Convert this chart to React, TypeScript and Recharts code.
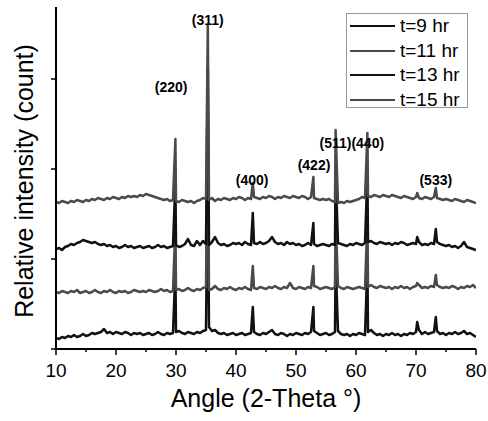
import React from 'react';
import { LineChart, Line, XAxis, YAxis, ReferenceDot, Legend, Label } from 'recharts';

const FONT = "Arial, 'Liberation Sans', Helvetica, sans-serif";

// Sampling grid of the diffractograms: 10.0° to 80.0° every 0.5°
const ANGLE_START = 10;
const ANGLE_STEP = 0.5;

// Baseline intensities (a.u., stacked), 10 values per 5° row
const base9 = [
  11, 10, 12, 11, 13, 12, 14, 12, 13, 15,
  13, 14, 16, 15, 16, 17, 20, 16, 17, 15,
  17, 16, 15, 17, 16, 14, 16, 15, 16, 14,
  15, 16, 14, 15, 17, 15, 14, 16, 15, 16,
  17, 18, 16, 15, 17, 16, 15, 17, 16, 18,
  19, 22, 18, 19, 16, 15, 16, 14, 15, 16,
  14, 15, 16, 14, 15, 16, 17, 15, 14, 16,
  15, 17, 19, 15, 14, 16, 15, 13, 15, 14,
  16, 15, 14, 16, 15, 17, 18, 16, 14, 15,
  16, 14, 15, 17, 18, 15, 14, 15, 13, 15,
  14, 16, 15, 14, 17, 19, 16, 14, 15, 13,
  15, 14, 16, 14, 15, 13, 15, 14, 16, 15,
  17, 19, 15, 17, 15, 16, 17, 18, 15, 16,
  14, 16, 15, 17, 15, 16, 18, 15, 16, 14,
  12,
];
const base11 = [
  57, 56, 58, 57, 56, 58, 57, 59, 56, 57,
  58, 56, 57, 59, 57, 56, 58, 57, 59, 57,
  56, 58, 57, 58, 56, 57, 59, 58, 57, 58,
  57, 59, 58, 57, 58, 60, 58, 59, 57, 58,
  59, 60, 58, 59, 61, 59, 58, 60, 59, 61,
  62, 59, 60, 63, 60, 59, 61, 60, 62, 60,
  59, 61, 60, 62, 60, 59, 61, 60, 62, 61,
  60, 62, 61, 63, 61, 60, 62, 61, 66, 61,
  60, 62, 61, 60, 62, 61, 63, 62, 60, 61,
  62, 61, 60, 62, 63, 61, 60, 62, 61, 60,
  61, 62, 61, 60, 62, 64, 62, 61, 63, 62,
  61, 62, 60, 62, 61, 63, 61, 62, 60, 62,
  63, 64, 61, 62, 61, 63, 62, 64, 62, 61,
  62, 61, 63, 62, 60, 62, 61, 63, 62, 64,
  61,
];
const base13 = [
  100, 101, 99, 102, 103, 105, 104, 106, 107, 109,
  108, 107, 106, 107, 105, 104, 105, 103, 104, 102,
  103, 101, 102, 104, 102, 103, 101, 102, 103, 101,
  102, 103, 101, 102, 104, 102, 103, 101, 102, 103,
  104, 102, 103, 105, 110, 104, 103, 108, 104, 108,
  105, 104, 107, 112, 106, 104, 105, 103, 104, 106,
  105, 106, 104, 107, 105, 104, 106, 105, 107, 105,
  106, 108, 112, 107, 105, 106, 104, 107, 105, 106,
  104, 105, 103, 104, 106, 104, 105, 103, 104, 105,
  104, 103, 105, 104, 106, 105, 104, 103, 105, 104,
  106, 105, 104, 106, 107, 108, 106, 105, 107, 106,
  105, 106, 104, 106, 105, 107, 106, 104, 105, 106,
  105, 107, 104, 105, 104, 106, 105, 107, 105, 104,
  103, 104, 102, 103, 101, 103, 107, 102, 101, 100,
  99,
];
const base15 = [
  147, 146, 148, 147, 146, 148, 147, 149, 148, 147,
  149, 148, 150, 149, 151, 150, 149, 151, 150, 152,
  151, 150, 152, 151, 153, 152, 153, 152, 154, 153,
  155, 154, 153, 152, 151, 150, 149, 150, 148, 149,
  148, 147, 149, 148, 147, 148, 146, 148, 149, 151,
  150, 149, 151, 148, 150, 149, 151, 150, 149, 151,
  150, 152, 151, 149, 151, 150, 152, 151, 150, 152,
  151, 153, 152, 150, 152, 151, 153, 152, 151, 153,
  152, 151, 153, 152, 150, 152, 151, 150, 149, 150,
  149, 150, 148, 147, 146, 147, 146, 148, 147, 148,
  149, 150, 152, 151, 153, 152, 154, 153, 152, 154,
  153, 152, 154, 153, 152, 151, 153, 152, 151, 150,
  152, 151, 150, 152, 151, 150, 152, 151, 150, 149,
  150, 149, 148, 150, 149, 148, 147, 149, 148, 147,
  146,
];

// Diffraction peaks: [angle (2θ), apex intensity]
const peaks9: [number, number][] = [
  [29.9, 80], [35.3, 193], [42.8, 42], [52.9, 42], [56.6, 88], [61.9, 85], [70.2, 27], [73.3, 32],
];
const peaks11: [number, number][] = [
  [29.9, 124], [35.3, 238], [42.8, 83], [52.9, 83], [56.6, 133], [61.9, 130], [70.2, 66], [73.3, 74],
];
const peaks13: [number, number][] = [
  [29.9, 168], [35.3, 282], [42.8, 136], [52.9, 126], [56.6, 177], [61.9, 175], [70.2, 112], [73.3, 120],
];
const peaks15: [number, number][] = [
  [29.9, 210], [35.3, 324], [42.8, 166], [52.9, 172], [56.6, 219], [61.9, 216], [70.2, 156], [73.3, 161],
];

const seriesNames = ['t=9 hr', 't=11 hr', 't=13 hr', 't=15 hr'];
const seriesColors = ['#111111', '#4a4a4a', '#111111', '#4a4a4a'];

// Miller-index annotations: text, angle, intensity level
const annoText = ['(220)', '(311)', '(400)', '(422)', '(511)(440)', '(533)'];
const annoAngle = [29.2, 35.3, 42.7, 53.0, 59.3, 73.3];
const annoLevel = [262, 329, 169, 184, 206, 169];

const xTicks = [10, 15, 20, 25, 30, 35, 40, 45, 50, 55, 60, 65, 70, 75, 80];
const yTicks = [0, 90, 180, 270];

function build(base: number[], peaks: [number, number][]) {
  const pts = base
    .map((v, i) => ({ x: ANGLE_START + i * ANGLE_STEP, v }))
    .filter((p) => !peaks.some(([a]) => Math.abs(a - p.x) < 0.05));
  peaks.forEach(([a, h]) => pts.push({ x: a, v: h }));
  pts.sort((a, b) => a.x - b.x);
  return pts;
}

const seriesData = [
  build(base9, peaks9),
  build(base11, peaks11),
  build(base13, peaks13),
  build(base15, peaks15),
];

const XTick = (props: any) => {
  const { x, y, payload } = props;
  const major = payload.value % 10 === 0;
  return (
    <g>
      <line x1={x} x2={x} y1={y} y2={y + (major ? 6 : 3)} stroke="#000" strokeWidth={1.5} />
      {major && (
        <text x={x} y={y + 28} textAnchor="middle" fontSize={19} fontFamily={FONT} fill="#000">
          {payload.value}
        </text>
      )}
    </g>
  );
};

const XLabel = (props: any) => {
  const vb = props.viewBox || { x: 56, y: 349, width: 420, height: 30 };
  return (
    <text x={vb.x + vb.width / 2} y={vb.y + 58} textAnchor="middle" fontSize={25} fontFamily={FONT} fill="#000">
      Angle (2-Theta °)
    </text>
  );
};

const YLabel = (props: any) => {
  const vb = props.viewBox || { x: 0, y: 7, width: 56, height: 342 };
  const cx = vb.x + 33;
  const cy = vb.y + vb.height / 2 + 3;
  return (
    <text x={cx} y={cy} transform={`rotate(-90, ${cx}, ${cy})`} textAnchor="middle" fontSize={25} fontFamily={FONT} fill="#000">
      Relative intensity (count)
    </text>
  );
};

const LegendBox = () => (
  <div
    style={{
      width: 122,
      height: 95,
      boxSizing: 'border-box',
      border: '1px solid #9a9a9a',
      background: '#fff',
      paddingLeft: 3,
      paddingTop: 0,
      fontFamily: FONT,
      fontSize: 19,
      color: '#000',
    }}
  >
    {seriesNames.map((n, i) => (
      <div key={n} style={{ display: 'flex', alignItems: 'center', height: 24.5, lineHeight: '24.5px', whiteSpace: 'nowrap' }}>
        <span style={{ display: 'inline-block', width: 45, height: 0, borderTop: `2.5px solid ${seriesColors[i]}`, marginRight: 5 }} />
        <span>{n}</span>
      </div>
    ))}
  </div>
);

export default function App() {
  return (
    <div style={{ position: 'absolute', left: 0, top: 0, width: 488, height: 421, background: '#fff' }}>
      <LineChart width={488} height={421} margin={{ top: 7, right: 12, bottom: 42, left: 0 }}>
        <XAxis
          dataKey="x"
          type="number"
          domain={[10, 80]}
          ticks={xTicks}
          allowDataOverflow
          height={30}
          tickSize={0}
          tickMargin={0}
          tickLine={false}
          tick={<XTick />}
          axisLine={{ stroke: '#000', strokeWidth: 2 }}
          interval={0}
        >
          <Label content={<XLabel />} />
        </XAxis>
        <XAxis
          xAxisId="top"
          orientation="top"
          type="number"
          domain={[10, 80]}
          height={0}
          tick={false}
          tickLine={false}
          axisLine={{ stroke: '#000', strokeWidth: 2 }}
        />
        <YAxis
          type="number"
          domain={[0, 342]}
          ticks={yTicks}
          allowDataOverflow
          width={56}
          tickSize={5}
          tickFormatter={() => ''}
          tickLine={{ stroke: '#000', strokeWidth: 1.5 }}
          axisLine={{ stroke: '#000', strokeWidth: 2 }}
          interval={0}
        >
          <Label content={<YLabel />} />
        </YAxis>
        <YAxis
          yAxisId="right"
          orientation="right"
          type="number"
          domain={[0, 342]}
          width={0}
          tick={false}
          tickLine={false}
          axisLine={{ stroke: '#000', strokeWidth: 2 }}
        />
        {seriesData.map((d, i) => (
          <Line
            key={seriesNames[i]}
            data={d}
            dataKey="v"
            name={seriesNames[i]}
            type="linear"
            stroke={seriesColors[i]}
            strokeWidth={2.5}
            strokeLinejoin="round"
            dot={false}
            activeDot={false}
            isAnimationActive={false}
          />
        ))}
        {annoText.map((t, i) => (
          <ReferenceDot
            key={t}
            x={annoAngle[i]}
            y={annoLevel[i]}
            r={0}
            ifOverflow="visible"
            shape={(p: any) => (
              <text x={p.cx} y={p.cy} dy="0.35em" textAnchor="middle" fontSize={14} fontWeight="bold" fontFamily={FONT} fill="#000">
                {t}
              </text>
            )}
          />
        ))}
        <Legend
          layout="vertical"
          align="center"
          verticalAlign="middle"
          content={<LegendBox />}
          wrapperStyle={{ position: 'absolute', left: 346, top: 13, width: 122, height: 95 }}
        />
      </LineChart>
    </div>
  );
}
